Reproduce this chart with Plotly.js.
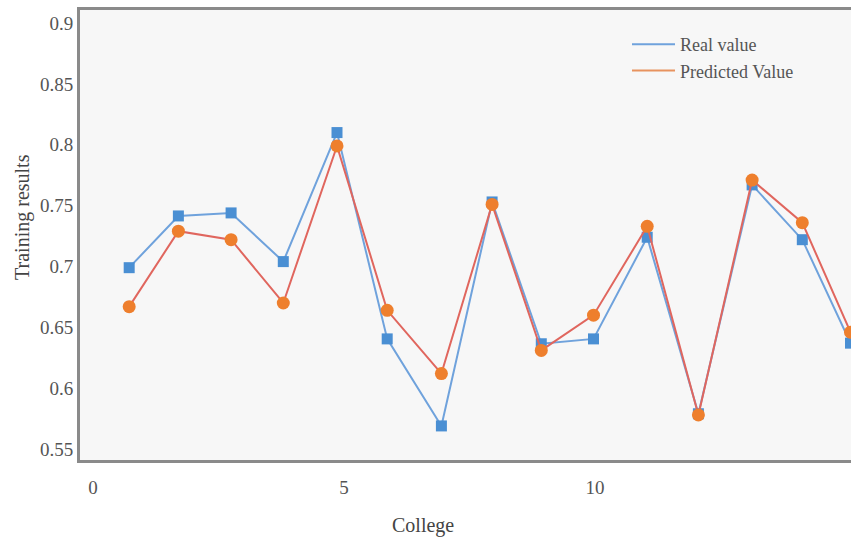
<!DOCTYPE html>
<html>
<head>
<meta charset="utf-8">
<script src="https://cdn.plot.ly/plotly-3.0.1.min.js"></script>
<style>html,body{margin:0;padding:0;background:#fff;}#chart{width:851px;height:540px;}</style>
</head>
<body>
<div id="chart"></div>
<script>
const college = [0.72, 1.70, 2.75, 3.79, 4.86, 5.86, 6.94, 7.95, 8.93, 9.97, 11.04, 12.06, 13.13, 14.13, 15.09];
const realValue = [0.699, 0.7415, 0.744, 0.704, 0.81, 0.6405, 0.569, 0.753, 0.6365, 0.6405, 0.724, 0.579, 0.767, 0.722, 0.637];
const predictedValue = [0.667, 0.729, 0.722, 0.670, 0.799, 0.664, 0.612, 0.751, 0.631, 0.660, 0.733, 0.578, 0.771, 0.736, 0.646];
const seriesNames = ['Real value', 'Predicted Value'];
const xTicks = [0, 5, 10, 15];
const yTicks = [0.55, 0.6, 0.65, 0.7, 0.75, 0.8, 0.85, 0.9];
const yTickLabels = ['0.55', '0.6', '0.65', '0.7', '0.75', '0.8', '0.85', '0.9'];

const serif = 'Liberation Serif, Times New Roman, serif';
const blueLine = '#6fa2dc', blueMarker = '#4a8fd3';
const redLine = '#e0665e', orangeMarker = '#ee7f2d';

const traces = [
  {
    x: college, y: realValue, name: seriesNames[0], type: 'scatter', mode: 'lines+markers',
    line: {color: blueLine, width: 2},
    marker: {symbol: 'square', size: 11, color: blueMarker},
    cliponaxis: false, showlegend: false
  },
  {
    x: college, y: predictedValue, name: seriesNames[1], type: 'scatter', mode: 'lines+markers',
    line: {color: redLine, width: 2},
    marker: {symbol: 'circle', size: 13, color: orangeMarker},
    cliponaxis: false, showlegend: false
  },
  // legend entries (line only, like the reference)
  {x: [null], y: [null], name: seriesNames[0], type: 'scatter', mode: 'lines', line: {color: blueLine, width: 2}, showlegend: true},
  {x: [null], y: [null], name: seriesNames[1], type: 'scatter', mode: 'lines', line: {color: '#e8935f', width: 2}, showlegend: true}
];

const layout = {
  width: 851, height: 540,
  margin: {l: 80, r: 0, t: 10, b: 80},
  paper_bgcolor: '#ffffff',
  plot_bgcolor: '#f7f7f7',
  showlegend: true,
  legend: {
    x: (627 - 80) / 771, y: 1 - (26 - 10) / 450, xanchor: 'left', yanchor: 'top',
    bgcolor: 'rgba(0,0,0,0)',
    font: {family: serif, size: 18, color: '#555555'},
    itemwidth: 43,
    tracegroupgap: 0
  },
  xaxis: {
    range: [-0.26, 15.1],
    tickvals: xTicks,
    ticktext: xTicks.map(String),
    showgrid: false, zeroline: false,
    showline: true, linecolor: '#8a8a8a', linewidth: 3, mirror: true,
    ticks: '', ticklen: 0, ticklabelstandoff: 8,
    tickfont: {family: serif, size: 19, color: '#555555'},
    title: {text: ''}
  },
  yaxis: {
    range: [0.541, 0.9107],
    tickvals: yTicks,
    ticktext: yTickLabels,
    showgrid: false, zeroline: false,
    showline: true, linecolor: '#8a8a8a', linewidth: 3, mirror: false,
    ticks: '', ticklen: 0,
    tickfont: {family: serif, size: 19, color: '#555555'},
    title: {text: ''}
  },
  annotations: [
    {text: 'College', xref: 'paper', yref: 'paper', x: 0.445, y: -0.145, xanchor: 'center', yanchor: 'middle',
     showarrow: false, font: {family: serif, size: 20, color: '#444444'}},
    {text: 'Training results', xref: 'paper', yref: 'paper', x: -0.074, y: 0.54, xanchor: 'center', yanchor: 'middle',
     textangle: -90, showarrow: false, font: {family: serif, size: 20, color: '#444444'}}
  ]
};

Plotly.newPlot('chart', traces, layout, {displayModeBar: false, staticPlot: true});
</script>
</body>
</html>
